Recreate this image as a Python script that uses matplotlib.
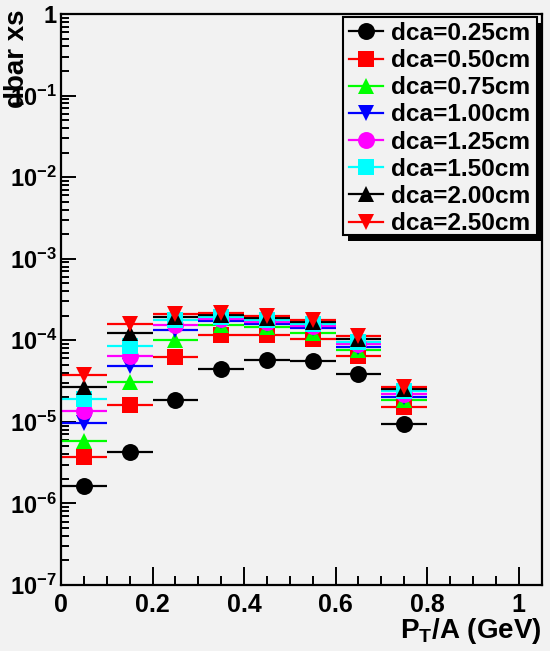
import matplotlib
matplotlib.use("Agg")
import matplotlib.pyplot as plt
from matplotlib.ticker import FixedLocator, FuncFormatter, LogLocator, NullFormatter, MultipleLocator
from matplotlib.patches import Rectangle
import numpy as np

# ---- data -------------------------------------------------------------
pt_bins = [0.05, 0.15, 0.25, 0.35, 0.45, 0.55, 0.65, 0.75]
bin_half_width = 0.05

dca_labels = ["dca=0.25cm", "dca=0.50cm", "dca=0.75cm", "dca=1.00cm",
              "dca=1.25cm", "dca=1.50cm", "dca=2.00cm", "dca=2.50cm"]

xs_025 = [1.65e-6, 4.3e-6, 1.87e-5, 4.4e-5, 5.7e-5, 5.6e-5, 3.85e-5, 9.3e-6]
xs_050 = [3.75e-6, 1.6e-5, 6.2e-5, 1.15e-4, 1.15e-4, 1.03e-4, 6.5e-5, 1.51e-5]
xs_075 = [5.9e-6, 3.05e-5, 1.0e-4, 1.55e-4, 1.47e-4, 1.24e-4, 7.5e-5, 1.84e-5]
xs_100 = [9.6e-6, 4.8e-5, 1.32e-4, 1.71e-4, 1.6e-4, 1.4e-4, 8.35e-5, 2.04e-5]
xs_125 = [1.37e-5, 6.5e-5, 1.55e-4, 1.81e-4, 1.66e-4, 1.5e-4, 8.9e-5, 2.17e-5]
xs_150 = [1.9e-5, 8.4e-5, 1.77e-4, 1.93e-4, 1.77e-4, 1.6e-4, 9.6e-5, 2.39e-5]
xs_200 = [2.7e-5, 1.23e-4, 1.91e-4, 2.04e-4, 1.9e-4, 1.67e-4, 1.05e-4, 2.55e-5]
xs_250 = [3.75e-5, 1.6e-4, 2.08e-4, 2.16e-4, 2.0e-4, 1.77e-4, 1.13e-4, 2.7e-5]

series = [xs_025, xs_050, xs_075, xs_100, xs_125, xs_150, xs_200, xs_250]

# ---- style ------------------------------------------------------------
colors = ["#000000", "#ff0000", "#00ff00", "#0000ff",
          "#ff00ff", "#00ffff", "#000000", "#ff0000"]
markers = ["o", "s", "^", "v", "o", "s", "^", "v"]

plt.rcParams["font.family"] = ["Liberation Sans", "DejaVu Sans"]
plt.rcParams["font.weight"] = "bold"
plt.rcParams["mathtext.fontset"] = "custom"
plt.rcParams["mathtext.rm"] = "Liberation Sans:bold"
plt.rcParams["mathtext.bf"] = "Liberation Sans:bold"
plt.rcParams["mathtext.it"] = "Liberation Sans:bold"
plt.rcParams["mathtext.sf"] = "Liberation Sans:bold"

bg = "#f2f2f2"
W, H = 550, 651
fig = plt.figure(figsize=(W / 100, H / 100), dpi=100, facecolor=bg)

left, right, top, bottom = 61, 541.5, 14, 585
ax = fig.add_axes([left / W, 1 - bottom / H, (right - left) / W, (bottom - top) / H])
ax.set_facecolor(bg)

handles = []
for vals, col, mk, lab in zip(series, colors, markers, dca_labels):
    ax.errorbar(pt_bins, vals, xerr=bin_half_width, fmt=mk, color=col,
                ecolor=col, elinewidth=1.6, capsize=0, markersize=12.2,
                markeredgewidth=0, label=lab)
    h, = ax.plot([], [], marker=mk, color=col, lw=1.6, markersize=12.2,
                 markeredgewidth=0)
    handles.append(h)

ax.set_yscale("log")
ax.set_xlim(0, 1.05)
ax.set_ylim(1e-7, 1)

# x axis ticks
ax.xaxis.set_major_locator(FixedLocator([0, 0.2, 0.4, 0.6, 0.8, 1.0]))
ax.xaxis.set_minor_locator(MultipleLocator(0.05))
ax.xaxis.set_major_formatter(FuncFormatter(lambda v, p: "%g" % round(v, 2)))

# y axis ticks
def ylab(v, p):
    e = int(round(np.log10(v)))
    if e == 0:
        return "1"
    return r"$\mathdefault{10^{%d}}$" % e

ax.yaxis.set_major_locator(LogLocator(base=10, numticks=20))
ax.yaxis.set_minor_locator(LogLocator(base=10, subs=np.arange(2, 10), numticks=20))
ax.yaxis.set_major_formatter(FuncFormatter(ylab))
ax.yaxis.set_minor_formatter(NullFormatter())

ax.tick_params(axis="both", which="both", direction="in", top=False, right=False,
               width=1.4, color="black")
ax.tick_params(axis="x", which="major", length=13, pad=6, labelsize=18)
ax.tick_params(axis="x", which="minor", length=6.5)
ax.tick_params(axis="y", which="major", length=11, pad=3, labelsize=17)
ax.tick_params(axis="y", which="minor", length=5.5)

for sp in ax.spines.values():
    sp.set_linewidth(1.6)
    sp.set_color("black")

# axis titles
fig.text(17.5 / W, 1 - 10 / H, "dbar xs", rotation=90, ha="center", va="top",
         fontsize=20, fontweight="bold")
fig.text(541 / W, 1 - 638 / H, r"$\mathdefault{P_{T}}$/A (GeV)", ha="right",
         va="baseline", fontsize=20, fontweight="bold")

# legend: box and solid drop shadow drawn as patches, entries on top
lx0, ly0, lx1, ly1 = 343, 17, 537, 235
box = Rectangle((lx0 / W, 1 - ly1 / H), (lx1 - lx0) / W, (ly1 - ly0) / H,
                transform=fig.transFigure, facecolor=bg, edgecolor="black",
                linewidth=1.5, zorder=4.95, clip_on=False)
shadow = Rectangle(((lx0 + 5) / W, 1 - (ly1 + 6) / H), (lx1 - lx0) / W, (ly1 - ly0) / H,
                   transform=fig.transFigure, facecolor="black", edgecolor="none",
                   zorder=4.9, clip_on=False)
ax.add_artist(shadow)
ax.add_artist(box)

leg = ax.legend(handles, dca_labels, loc="upper left",
                bbox_to_anchor=(349 / W, 1 - 22 / H), bbox_transform=fig.transFigure,
                borderaxespad=0, fontsize=17.6, frameon=False,
                handlelength=1.4, handletextpad=0.3, labelspacing=0.17,
                borderpad=0)
leg.set_zorder(5)
for t in leg.get_texts():
    t.set_fontweight("bold")

fig.savefig("out.png", dpi=100, facecolor=bg)
